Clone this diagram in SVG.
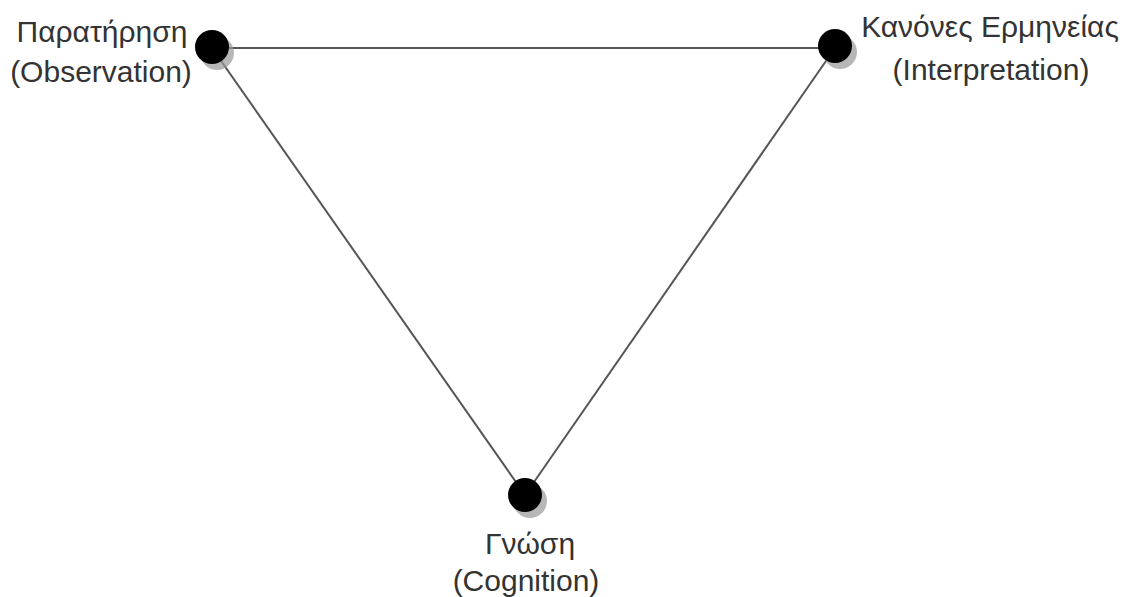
<svg xmlns="http://www.w3.org/2000/svg" width="1125" height="597" viewBox="0 0 1125 597">
<style>
.lbl{font-family:"Liberation Sans","DejaVu Sans",sans-serif;font-size:30px;fill:#333;text-anchor:middle}
.edge{stroke:#555;stroke-width:2;fill:none}
.dot{fill:#000}
.shadow{fill:#999;opacity:0.7}
</style>
<rect width="1125" height="597" fill="#fff"/>
<g id="connectors">
<line class="edge" x1="212" y1="48" x2="835" y2="48"/>
<line class="edge" x1="212" y1="48" x2="525" y2="495"/>
<line class="edge" x1="835" y1="48" x2="525" y2="495"/>
</g>
<g id="observation">
<circle class="shadow" cx="217" cy="53" r="17"/>
<circle class="dot" cx="212" cy="47" r="17"/>
<text class="lbl" x="102" y="42">Παρατήρηση</text>
<text class="lbl" x="101" y="82">(Observation)</text>
</g>
<g id="interpretation">
<circle class="shadow" cx="840" cy="52" r="17"/>
<circle class="dot" cx="835" cy="46" r="17"/>
<text class="lbl" x="990" y="37">Κανόνες Ερμηνείας</text>
<text class="lbl" x="991" y="80">(Interpretation)</text>
</g>
<g id="cognition">
<circle class="shadow" cx="530" cy="501" r="17"/>
<circle class="dot" cx="525" cy="495" r="17"/>
<text class="lbl" x="530" y="554">Γνώση</text>
<text class="lbl" x="526" y="591">(Cognition)</text>
</g>
</svg>
